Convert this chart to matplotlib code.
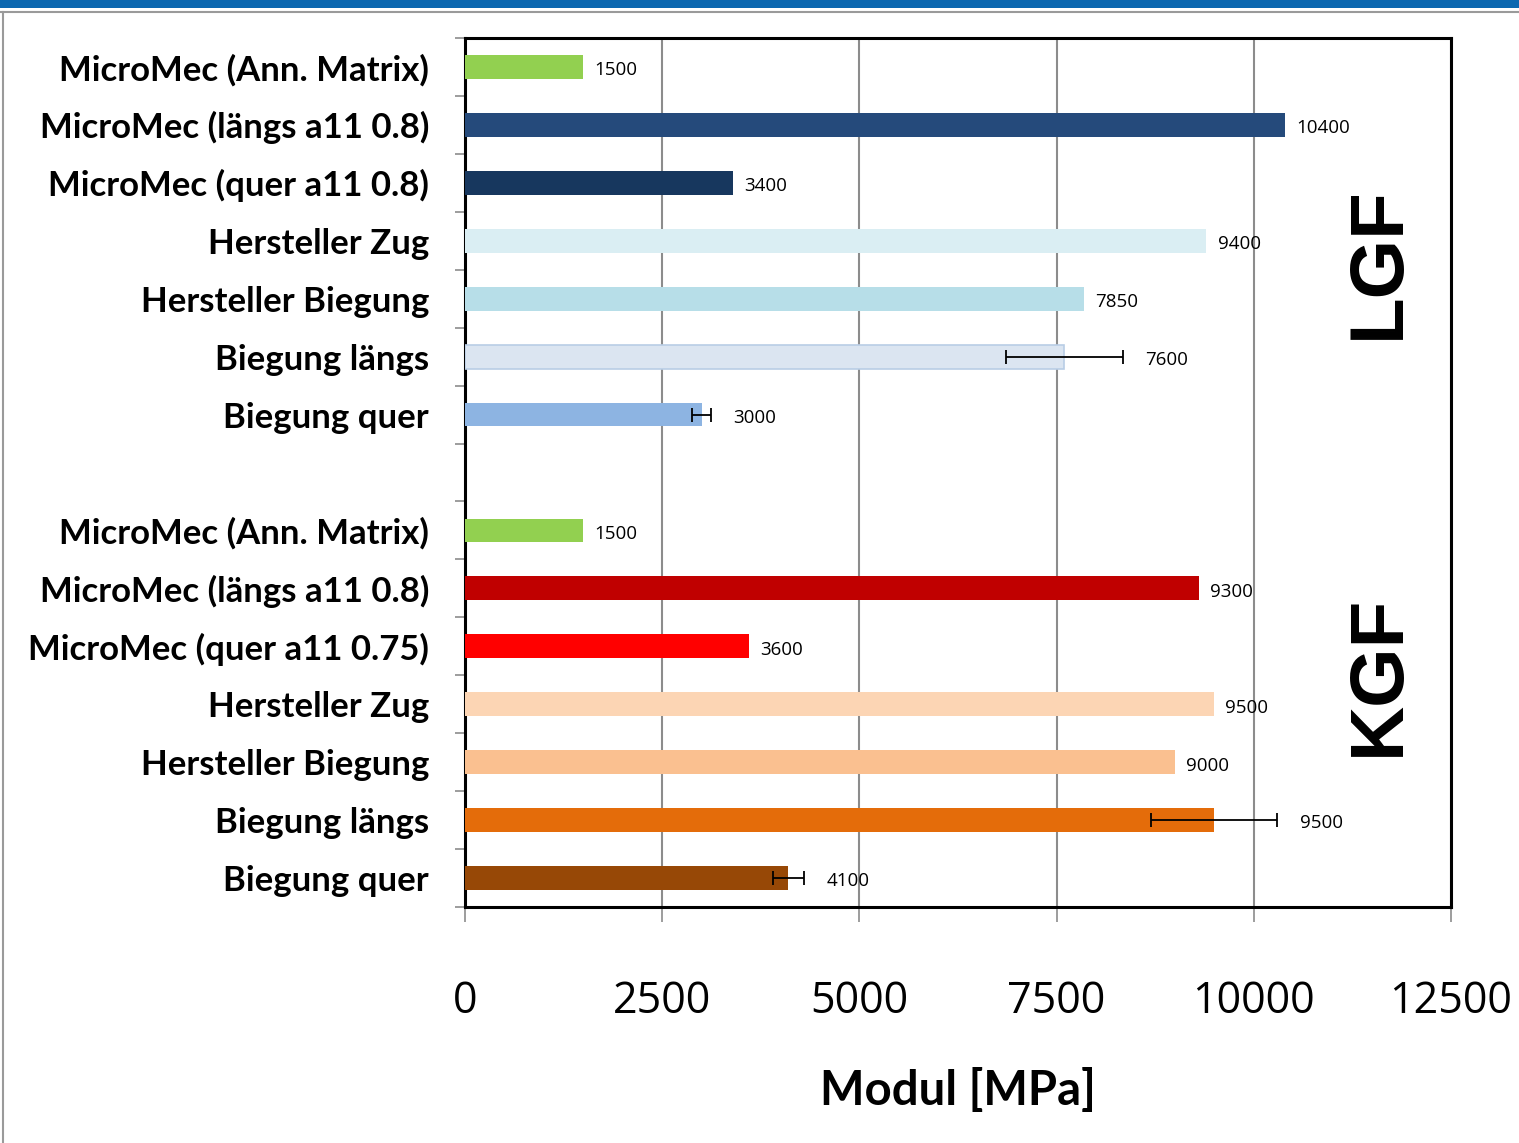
import matplotlib
matplotlib.use("Agg")
import matplotlib.pyplot as plt
from matplotlib.lines import Line2D
from matplotlib.patches import Rectangle
import numpy as np

# Bar labels (top to bottom); empty string marks the gap between the groups
labels = [
    "MicroMec (Ann. Matrix)", "MicroMec (längs a11 0.8)", "MicroMec (quer a11 0.8)",
    "Hersteller Zug", "Hersteller Biegung", "Biegung längs", "Biegung quer",
    "",
    "MicroMec (Ann. Matrix)", "MicroMec (längs a11 0.8)", "MicroMec (quer a11 0.75)",
    "Hersteller Zug", "Hersteller Biegung", "Biegung längs", "Biegung quer",
]
# Modulus values in MPa (None for the gap)
values = [1500, 10400, 3400, 9400, 7850, 7600, 3000,
          None,
          1500, 9300, 3600, 9500, 9000, 9500, 4100]
# Standard deviations (0 = no error bar)
errors = [0, 0, 0, 0, 0, 740, 120,
          0,
          0, 0, 0, 0, 0, 800, 200]
colors = ["#92D050", "#254A7B", "#17375E", "#DAEEF3", "#B7DEE8", "#DBE5F1", "#8DB4E2",
          "none",
          "#92D050", "#C00000", "#FF0000", "#FCD5B4", "#FAC090", "#E46C0A", "#974806"]
edgecolors = ["none", "none", "none", "none", "none", "#B9CDE5", "none",
              "none",
              "none", "none", "none", "none", "none", "none", "none"]
x_ticks = [0, 2500, 5000, 7500, 10000, 12500]
group_names = ["LGF", "KGF"]
x_label = "Modul [MPa]"

W, H, DPI = 1519, 1143, 100
fig = plt.figure(figsize=(W / DPI, H / DPI), dpi=DPI)

# Slide decoration: blue band at top, thin rules framing the chart area
fig.patches.append(Rectangle((0, 1 - 8 / H), 1, 8 / H, transform=fig.transFigure,
                             facecolor="#0C68B0", edgecolor="none", zorder=0))
fig.lines.append(Line2D([0, 1], [1 - 12 / H, 1 - 12 / H], transform=fig.transFigure,
                        color="#9A9A9A", lw=1.5))
fig.lines.append(Line2D([3 / W, 3 / W], [0, 1 - 12 / H], transform=fig.transFigure,
                        color="#9A9A9A", lw=1.5))

ax = fig.add_axes([465 / W, 236 / H, 986 / W, 869 / H])

y = np.arange(len(labels))
for i, (v, e, c, ec) in enumerate(zip(values, errors, colors, edgecolors)):
    if v is None:
        continue
    ax.barh(y[i], v, height=0.41, color=c, edgecolor=ec, linewidth=1.2, zorder=3)
    if e:
        ax.errorbar(v, y[i], xerr=e, fmt="none", ecolor="black", elinewidth=1.3,
                    capsize=5, capthick=1.3, zorder=4)
        ax.annotate(f"{v}", (v + e, y[i]), xytext=(16, -1), textcoords="offset points",
                    va="center_baseline", ha="left", fontsize=13.5, family="Open Sans",
                    zorder=5)
    else:
        ax.annotate(f"{v}", (v, y[i]), xytext=(8, -1), textcoords="offset points",
                    va="center_baseline", ha="left", fontsize=13.5, family="Open Sans",
                    zorder=5)

ax.set_xlim(0, 12500)
ax.set_ylim(len(labels) - 0.5, -0.5)

# Gridlines
ax.set_xticks(x_ticks)
ax.xaxis.grid(True, color="#8C8C8C", lw=1.5, zorder=1)
ax.set_axisbelow(True)

ax.set_xticklabels([str(t) for t in x_ticks], fontsize=31, family="Open Sans")
ax.tick_params(axis="x", length=11, width=1.2, color="#8C8C8C", pad=41, direction="out")

ax.set_yticks(y)
ax.set_yticklabels(labels, fontsize=25, family="Lato", fontweight="bold")
ax.tick_params(axis="y", which="major", length=0, pad=26)
ax.set_yticks(np.arange(-0.5, len(labels)), minor=True)
ax.tick_params(axis="y", which="minor", length=7, width=1.2, color="#8C8C8C", direction="out")

for s in ax.spines.values():
    s.set_color("black")
    s.set_linewidth(2.2)

ax.set_xlabel(x_label, fontsize=34, family="Lato", fontweight="bold", labelpad=32)

# Group names along the right edge
ax.text(0.927, 3.37, group_names[0], transform=ax.get_yaxis_transform(), rotation=90,
        ha="center", va="center", fontsize=55, fontweight="bold", family="Liberation Sans")
ax.text(0.927, 10.5, group_names[1], transform=ax.get_yaxis_transform(), rotation=90,
        ha="center", va="center", fontsize=55, fontweight="bold", family="Liberation Sans")

fig.savefig("out.png", dpi=DPI)
